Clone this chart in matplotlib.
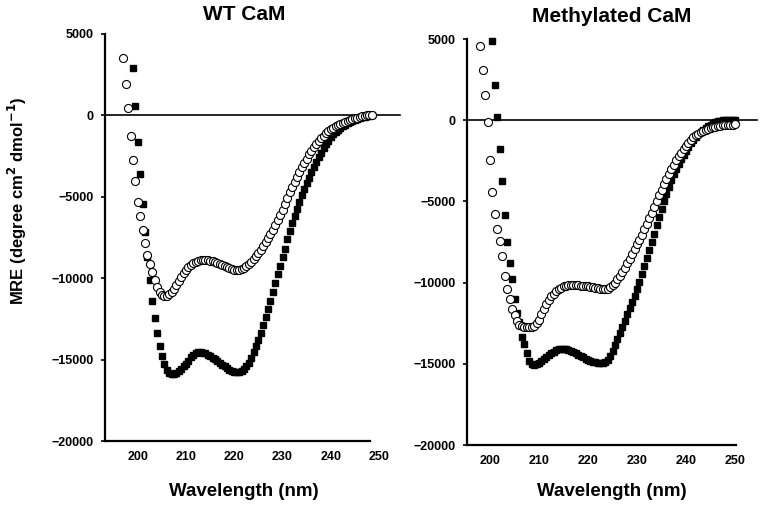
import matplotlib
matplotlib.use("Agg")
import matplotlib.pyplot as plt
import numpy as np

plt.rcParams['font.family'] = ['Liberation Sans', 'DejaVu Sans']
plt.rcParams['font.weight'] = 'bold'

STEP = 0.5  # nm between CD readings

# WT CaM
wt_open_start = 197.0
wt_open = [3500, 1950, 430, -1250, -2730, -4040, -5310, -6210, -7010, -7830,
           -8550, -9140, -9620, -10130, -10550, -10850, -11050, -11120, -11100, -11000,
           -10850, -10650, -10400, -10150, -9900, -9680, -9480, -9310, -9170, -9060,
           -8980, -8930, -8900, -8880, -8880, -8900, -8930, -8970, -9020, -9080,
           -9140, -9200, -9260, -9320, -9380, -9430, -9470, -9500, -9480, -9430,
           -9360, -9260, -9140, -9000, -8840, -8660, -8470, -8260, -8040, -7800,
           -7550, -7290, -7020, -6740, -6440, -6130, -5800, -5450, -5080, -4720,
           -4380, -4080, -3800, -3500, -3200, -2920, -2650, -2400, -2170, -1960,
           -1760, -1580, -1410, -1250, -1100, -970, -850, -750, -660, -580,
           -510, -450, -390, -330, -280, -230, -180, -130, -90, -50,
           -20, 0, 10, 20]
wt_filled_start = 199.0
wt_filled = [2890, 600, -1640, -3630, -5470, -7170, -8690, -10120, -11380, -12440,
             -13370, -14190, -14800, -15300, -15650, -15830, -15900, -15870, -15800, -15700,
             -15570, -15420, -15250, -15060, -14870, -14720, -14620, -14560, -14550, -14570,
             -14620, -14690, -14780, -14880, -14990, -15100, -15210, -15320, -15420, -15520,
             -15610, -15690, -15750, -15790, -15780, -15720, -15600, -15420, -15180, -14890,
             -14560, -14190, -13780, -13340, -12880, -12400, -11900, -11380, -10850, -10310,
             -9770, -9230, -8700, -8180, -7620, -7100, -6620, -6160, -5720, -5300,
             -4900, -4520, -4160, -3820, -3500, -3190, -2850, -2560, -2280, -2020,
             -1770, -1550, -1350, -1170, -1010, -870, -750, -650, -560, -470,
             -390, -320, -260, -200, -150, -100, -70, -40, -20, 0]

# Methylated CaM
me_open_start = 198.0
me_open = [4590, 3120, 1580, -120, -2460, -4400, -5800, -6720, -7440, -8360,
           -9590, -10410, -11030, -11600, -12000, -12360, -12600, -12700, -12730, -12740,
           -12740, -12720, -12650, -12500, -12300, -11950, -11600, -11300, -11050, -10850,
           -10680, -10540, -10420, -10320, -10240, -10180, -10140, -10130, -10130, -10140,
           -10160, -10180, -10200, -10220, -10240, -10260, -10280, -10310, -10340, -10370,
           -10390, -10400, -10380, -10300, -10170, -10000, -9800, -9580, -9340, -9080,
           -8810, -8530, -8240, -7940, -7650, -7350, -7040, -6720, -6390, -6050,
           -5700, -5340, -4980, -4620, -4270, -3930, -3600, -3290, -3000, -2730,
           -2470, -2220, -1990, -1770, -1570, -1380, -1210, -1060, -930, -820,
           -730, -650, -580, -520, -470, -430, -390, -360, -340, -320,
           -300, -290, -280, -270, -260]
me_filled_start = 200.5
me_filled = [4860, 2150, 190, -1800, -3750, -5860, -7500, -8770, -9760, -11030,
             -11850, -12450, -13320, -13800, -14350, -14800, -15000, -15050, -15020, -14950,
             -14850, -14730, -14600, -14470, -14350, -14250, -14170, -14110, -14080, -14080,
             -14100, -14140, -14200, -14270, -14350, -14440, -14530, -14610, -14690, -14760,
             -14820, -14870, -14900, -14920, -14930, -14920, -14880, -14750, -14500, -14200,
             -13850, -13480, -13100, -12720, -12340, -11960, -11580, -11200, -10800, -10380,
             -9940, -9480, -9000, -8510, -8010, -7500, -6990, -6480, -5970, -5470,
             -4990, -4530, -4100, -3700, -3330, -2990, -2680, -2390, -2120, -1870,
             -1640, -1430, -1230, -1050, -880, -730, -590, -470, -360, -270,
             -190, -120, -70, -30, -10, 10, 20, 30, 40, 40]

y_ticks = [-20000, -15000, -10000, -5000, 0, 5000]
x_ticks = [200, 210, 220, 230, 240, 250]


def wavelengths(start, values):
    return start + STEP * np.arange(len(values))


fig = plt.figure(figsize=(7.62, 5.08), dpi=100)
W, H = 762, 508


def add_panel(left, right, top, bottom, xlim, spine_end, title, title_xy,
              open_vals, open_start, filled_vals, filled_start, ylabel=None):
    ax = fig.add_axes([left / W, 1 - bottom / H, (right - left) / W, (bottom - top) / H])
    ax.plot(wavelengths(filled_start, filled_vals), filled_vals, 's', color='black',
            ms=5, mec='black', zorder=3, clip_on=False)
    ax.plot(wavelengths(open_start, open_vals), open_vals, 'o', mfc='white', mec='black',
            ms=5.8, mew=0.8, zorder=4, clip_on=False)
    ax.axhline(0, xmin=0, xmax=1.077, color='black', lw=1.2, clip_on=False, zorder=2)
    ax.set_xlim(*xlim)
    ax.set_ylim(-20000, 5000)
    ax.set_xticks(x_ticks)
    ax.set_yticks(y_ticks)
    ax.spines['top'].set_visible(False)
    ax.spines['right'].set_visible(False)
    ax.spines['left'].set_linewidth(1.6)
    ax.spines['bottom'].set_linewidth(1.6)
    ax.spines['bottom'].set_bounds(xlim[0], spine_end)
    ax.tick_params(axis='x', length=0, pad=7, labelsize=9)
    ax.tick_params(axis='y', length=3, width=1.2, pad=5, labelsize=9)
    for lab in ax.get_xticklabels() + ax.get_yticklabels():
        lab.set_fontweight('bold')
    fig.text(title_xy[0] / W, 1 - title_xy[1] / H, title, ha='center', va='center',
             fontsize=15, fontweight='bold')
    fig.text(title_xy[0] / W, 1 - 491 / H, 'Wavelength (nm)', ha='center', va='center',
             fontsize=13.5, fontweight='bold')
    if ylabel:
        fig.text(17 / W, 1 - 201 / H, ylabel, rotation=90, ha='center', va='center',
                 fontsize=12, fontweight='bold')
    return ax


add_panel(105, 379, 34, 441, (193.2, 250), 248.1, 'WT CaM', (244, 15),
          wt_open, wt_open_start, wt_filled, wt_filled_start,
          ylabel='MRE (degree cm$^{\\mathbf{2}}$ dmol$^{\\mathbf{-1}}$)')
add_panel(467, 736, 39, 445, (195.3, 250.2), 250.2, 'Methylated CaM', (612, 16),
          me_open, me_open_start, me_filled, me_filled_start)

fig.savefig('out.png', dpi=100)
